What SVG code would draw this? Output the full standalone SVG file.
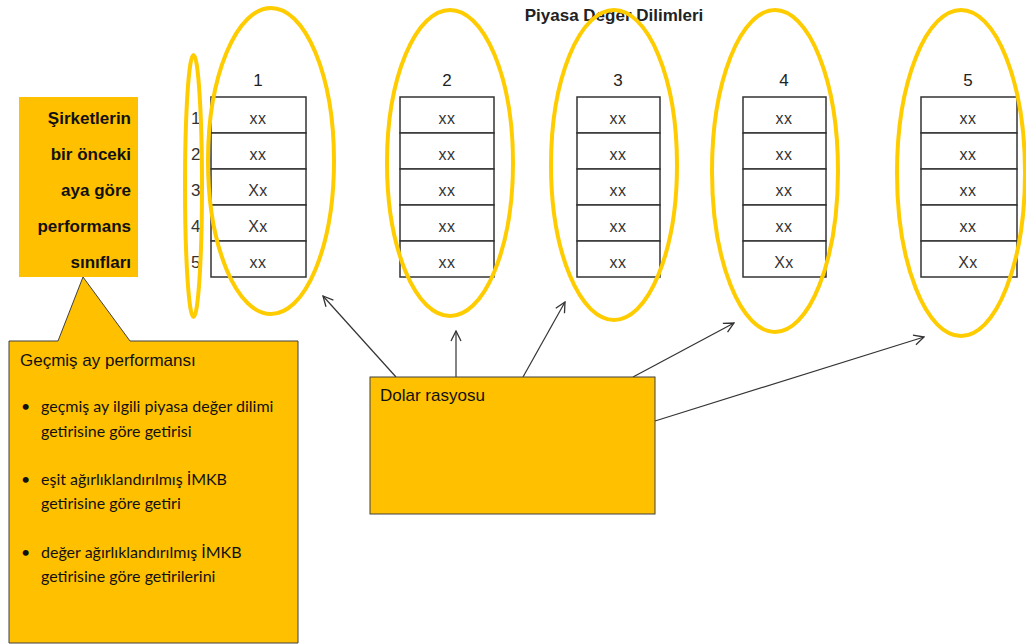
<svg xmlns="http://www.w3.org/2000/svg" width="1026" height="644" viewBox="0 0 1026 644">
<defs>
<style>
.fill{fill:#FFC000}
.lbl{font-family:"Liberation Sans",Arial,sans-serif;font-size:17px;font-weight:bold;fill:#111;text-anchor:end}
.num{font-family:"Liberation Sans",Arial,sans-serif;font-size:17px;fill:#222;text-anchor:middle}
.rown{font-family:"Liberation Sans",Arial,sans-serif;font-size:17px;fill:#333}
.cell{fill:#fff;stroke:#333;stroke-width:1.5}
.cx{font-family:"Liberation Sans",Arial,sans-serif;font-size:16px;fill:#333;text-anchor:middle;letter-spacing:0.5px}
.ell{fill:none;stroke:#FFCC00;stroke-width:4}
.body{font-family:Lato,"Open Sans",sans-serif;font-size:16px;fill:#111}
.hd{font-family:"Liberation Sans",Arial,sans-serif;font-size:17px;fill:#111}
.conn{stroke:#333;stroke-width:1.2;fill:none;marker-end:url(#arr)}
</style>
<marker id="arr" viewBox="0 0 12 12" refX="11" refY="6" markerWidth="12" markerHeight="12" markerUnits="userSpaceOnUse" orient="auto">
<path d="M1,1 L11,6 L1,11" fill="none" stroke="#333" stroke-width="1.3"/>
</marker>
</defs>
<rect width="1026" height="644" fill="#fff"/>

<text id="title" x="614" y="21" font-family="Liberation Sans, Arial, sans-serif" font-size="17" font-weight="bold" fill="#222" text-anchor="middle">Piyasa Değer Dilimleri</text>

<g id="siniflar">
<rect class="fill" x="19" y="97" width="119" height="180"/>
<text class="lbl" x="131" y="124">Şirketlerin</text>
<text class="lbl" x="131" y="160">bir önceki</text>
<text class="lbl" x="131" y="196">aya göre</text>
<text class="lbl" x="131" y="232">performans</text>
<text class="lbl" x="131" y="268">sınıfları</text>
</g>

<g id="row-numbers">
<text class="rown" x="191" y="124">1</text>
<text class="rown" x="191" y="160">2</text>
<text class="rown" x="191" y="196">3</text>
<text class="rown" x="191" y="232">4</text>
<text class="rown" x="191" y="268">5</text>
</g>

<g id="col1">
<text class="num" x="258" y="86">1</text>
<rect class="cell" x="211" y="97" width="95" height="36"/>
<rect class="cell" x="211" y="133" width="95" height="36"/>
<rect class="cell" x="211" y="169" width="95" height="36"/>
<rect class="cell" x="211" y="205" width="95" height="36"/>
<rect class="cell" x="211" y="241" width="95" height="36"/>
<text class="cx" x="258" y="124">xx</text>
<text class="cx" x="258" y="160">xx</text>
<text class="cx" x="258" y="196">Xx</text>
<text class="cx" x="258" y="232">Xx</text>
<text class="cx" x="258" y="268">xx</text>
</g>

<g id="col2">
<text class="num" x="447" y="86">2</text>
<rect class="cell" x="400" y="97" width="94" height="36"/>
<rect class="cell" x="400" y="133" width="94" height="36"/>
<rect class="cell" x="400" y="169" width="94" height="36"/>
<rect class="cell" x="400" y="205" width="94" height="36"/>
<rect class="cell" x="400" y="241" width="94" height="36"/>
<text class="cx" x="447" y="124">xx</text>
<text class="cx" x="447" y="160">xx</text>
<text class="cx" x="447" y="196">xx</text>
<text class="cx" x="447" y="232">xx</text>
<text class="cx" x="447" y="268">xx</text>
</g>

<g id="col3">
<text class="num" x="618" y="86">3</text>
<rect class="cell" x="577" y="97" width="83" height="36"/>
<rect class="cell" x="577" y="133" width="83" height="36"/>
<rect class="cell" x="577" y="169" width="83" height="36"/>
<rect class="cell" x="577" y="205" width="83" height="36"/>
<rect class="cell" x="577" y="241" width="83" height="36"/>
<text class="cx" x="618" y="124">xx</text>
<text class="cx" x="618" y="160">xx</text>
<text class="cx" x="618" y="196">xx</text>
<text class="cx" x="618" y="232">xx</text>
<text class="cx" x="618" y="268">xx</text>
</g>

<g id="col4">
<text class="num" x="784" y="86">4</text>
<rect class="cell" x="743" y="97" width="83" height="36"/>
<rect class="cell" x="743" y="133" width="83" height="36"/>
<rect class="cell" x="743" y="169" width="83" height="36"/>
<rect class="cell" x="743" y="205" width="83" height="36"/>
<rect class="cell" x="743" y="241" width="83" height="36"/>
<text class="cx" x="784" y="124">xx</text>
<text class="cx" x="784" y="160">xx</text>
<text class="cx" x="784" y="196">xx</text>
<text class="cx" x="784" y="232">xx</text>
<text class="cx" x="784" y="268">Xx</text>
</g>

<g id="col5">
<text class="num" x="968" y="86">5</text>
<rect class="cell" x="921" y="97" width="96" height="36"/>
<rect class="cell" x="921" y="133" width="96" height="36"/>
<rect class="cell" x="921" y="169" width="96" height="36"/>
<rect class="cell" x="921" y="205" width="96" height="36"/>
<rect class="cell" x="921" y="241" width="96" height="36"/>
<text class="cx" x="968" y="124">xx</text>
<text class="cx" x="968" y="160">xx</text>
<text class="cx" x="968" y="196">xx</text>
<text class="cx" x="968" y="232">xx</text>
<text class="cx" x="968" y="268">Xx</text>
</g>

<g id="ellipses">
<ellipse class="ell" cx="193.5" cy="186" rx="8.5" ry="131"/>
<ellipse class="ell" cx="271" cy="161" rx="63" ry="153"/>
<ellipse class="ell" cx="450" cy="163" rx="63" ry="153"/>
<ellipse class="ell" cx="614" cy="165" rx="63" ry="155"/>
<ellipse class="ell" cx="775" cy="171" rx="63" ry="161"/>
<ellipse class="ell" cx="961" cy="173" rx="64" ry="163"/>
</g>

<g id="gecmis">
<path class="fill" d="M9,341 L58,341 L83,277 L130,341 L298,341 L298,643 L9,643 Z" stroke="#404040" stroke-width="1"/>
<text class="hd" x="20" y="366">Geçmiş ay performansı</text>
<text class="body" x="21" y="412">•</text>
<text class="body" x="41" y="412">geçmiş ay ilgili piyasa değer dilimi</text>
<text class="body" x="41" y="437">getirisine göre getirisi</text>
<text class="body" x="21" y="485">•</text>
<text class="body" x="41" y="485">eşit ağırlıklandırılmış İMKB</text>
<text class="body" x="41" y="509">getirisine göre getiri</text>
<text class="body" x="21" y="558">•</text>
<text class="body" x="41" y="558">değer ağırlıklandırılmış İMKB</text>
<text class="body" x="41" y="582">getirisine göre getirilerini</text>
</g>

<g id="connectors">
<line class="conn" x1="396" y1="377" x2="323" y2="296"/>
<line class="conn" x1="456" y1="377" x2="456" y2="331"/>
<line class="conn" x1="523" y1="377" x2="565" y2="302"/>
<line class="conn" x1="633" y1="377" x2="734" y2="323"/>
<line class="conn" x1="655" y1="421" x2="924" y2="337"/>
</g>

<g id="dolar">
<rect class="fill" x="370" y="377" width="285" height="137" stroke="#404040" stroke-width="1"/>
<text class="hd" x="380" y="401" font-size="16">Dolar rasyosu</text>
</g>
</svg>
